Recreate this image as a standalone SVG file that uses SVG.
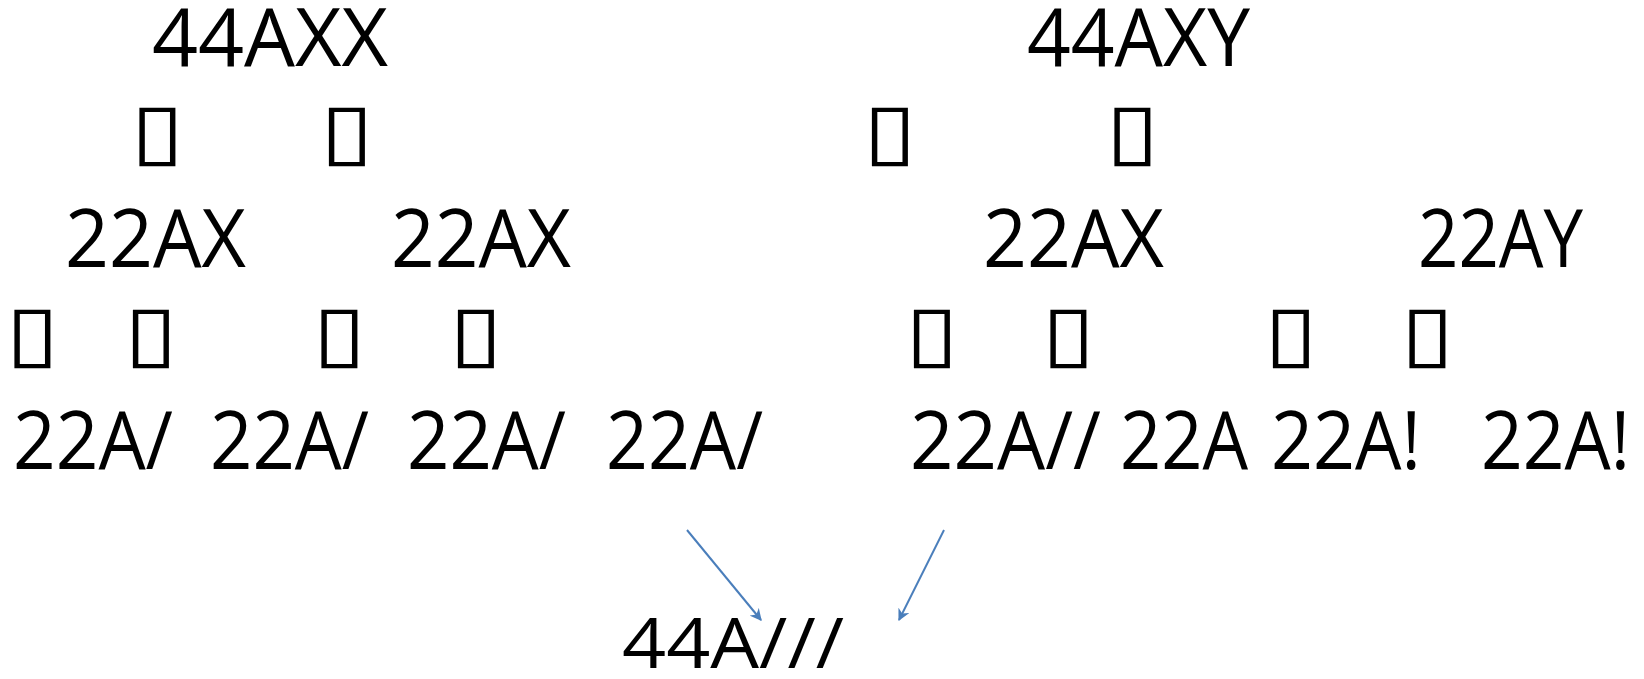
<svg xmlns="http://www.w3.org/2000/svg" width="1644" height="679" viewBox="0 0 1644 679">
<style>
.t{font-family:"Open Sans","Noto Sans",sans-serif;font-size:80px;fill:#000}
.b{font-family:"DejaVu Sans",sans-serif;font-size:77px;fill:#000;text-anchor:middle}
.c{stroke:#4a7ebb;stroke-width:2;fill:none}
</style>
<defs>
<marker id="ah" viewBox="0 0 10 10" refX="9" refY="5" markerWidth="6" markerHeight="6" orient="auto" markerUnits="strokeWidth">
<path d="M0,0 L10,5 L0,10 L3,5 Z" fill="#4a7ebb"/>
</marker>
</defs>
<rect width="1644" height="679" fill="#fff"/>
<g id="n-44AXX"><text class="t" x="152" y="66" textLength="236" lengthAdjust="spacingAndGlyphs">44AXX</text></g>
<g id="n-44AXY"><text class="t" x="1027" y="66" textLength="223" lengthAdjust="spacingAndGlyphs">44AXY</text></g>
<g id="n-row2">
<text class="b" transform="translate(157.5 157) scale(1.27 1)">▯</text>
<text class="b" transform="translate(347 157) scale(1.27 1)">▯</text>
<text class="b" transform="translate(890 157) scale(1.27 1)">▯</text>
<text class="b" transform="translate(1132.5 157) scale(1.27 1)">▯</text>
</g>
<g id="n-22AX-1"><text class="t" x="65" y="267" textLength="181" lengthAdjust="spacingAndGlyphs">22AX</text></g>
<g id="n-22AX-2"><text class="t" x="391" y="267" textLength="180" lengthAdjust="spacingAndGlyphs">22AX</text></g>
<g id="n-22AX-3"><text class="t" x="983" y="267" textLength="181" lengthAdjust="spacingAndGlyphs">22AX</text></g>
<g id="n-22AY"><text class="t" x="1418" y="267" textLength="165" lengthAdjust="spacingAndGlyphs">22AY</text></g>
<g id="n-row4">
<text class="b" transform="translate(32.5 359) scale(1.27 1)">▯</text>
<text class="b" transform="translate(151 359) scale(1.27 1)">▯</text>
<text class="b" transform="translate(339.5 359) scale(1.27 1)">▯</text>
<text class="b" transform="translate(476 359) scale(1.27 1)">▯</text>
<text class="b" transform="translate(932 359) scale(1.27 1)">▯</text>
<text class="b" transform="translate(1068.5 359) scale(1.27 1)">▯</text>
<text class="b" transform="translate(1291 359) scale(1.27 1)">▯</text>
<text class="b" transform="translate(1427.5 359) scale(1.27 1)">▯</text>
</g>
<g id="n-22A-1"><text class="t" x="13" y="469" textLength="160" lengthAdjust="spacingAndGlyphs">22A/</text></g>
<g id="n-22A-2"><text class="t" x="210" y="469" textLength="159" lengthAdjust="spacingAndGlyphs">22A/</text></g>
<g id="n-22A-3"><text class="t" x="407" y="469" textLength="159" lengthAdjust="spacingAndGlyphs">22A/</text></g>
<g id="n-22A-4"><text class="t" x="606" y="469" textLength="157" lengthAdjust="spacingAndGlyphs">22A/</text></g>
<g id="n-22A-5"><text class="t" x="910" y="469" textLength="191" lengthAdjust="spacingAndGlyphs">22A//</text></g>
<g id="n-22A-6"><text class="t" x="1120" y="469" textLength="128" lengthAdjust="spacingAndGlyphs">22A</text></g>
<g id="n-22A-7"><text class="t" x="1271" y="469" textLength="150" lengthAdjust="spacingAndGlyphs">22A!</text></g>
<g id="n-22A-8"><text class="t" x="1481" y="469" textLength="149" lengthAdjust="spacingAndGlyphs">22A!</text></g>
<g id="n-44A"><text class="t" x="622" y="668" style="font-size:70px" textLength="222" lengthAdjust="spacingAndGlyphs">44A///</text></g>
<g id="connectors">
<line class="c" x1="687" y1="530" x2="761" y2="620" marker-end="url(#ah)"/>
<line class="c" x1="944" y1="530" x2="899" y2="620" marker-end="url(#ah)"/>
</g>
</svg>
